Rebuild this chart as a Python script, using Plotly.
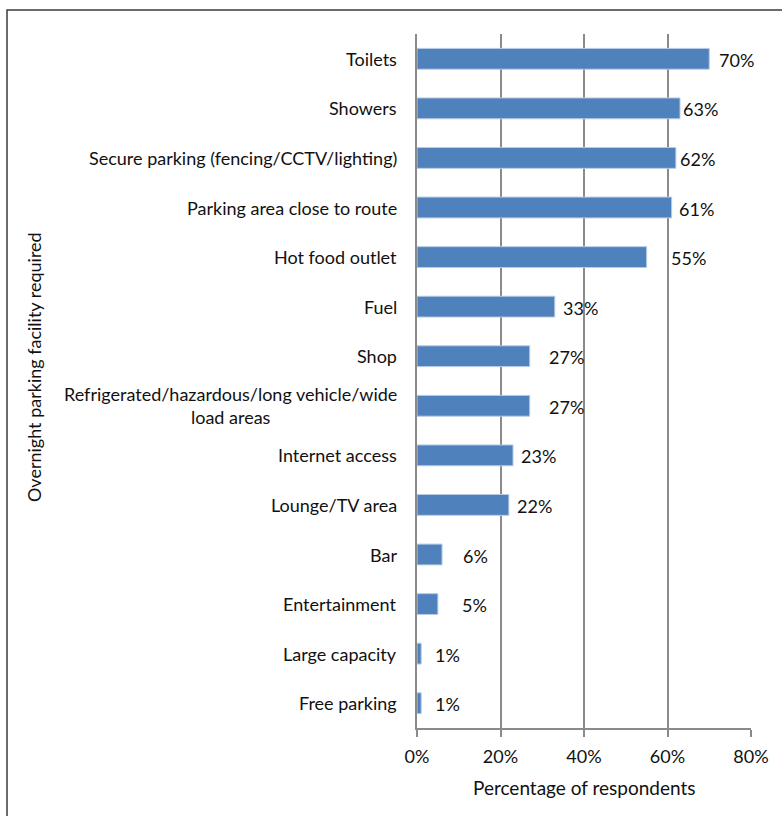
import plotly.graph_objects as go

# Facilities respondents want at overnight lorry parking sites
facilities = [
    "Toilets",
    "Showers",
    "Secure parking (fencing/CCTV/lighting)",
    "Parking area close to route",
    "Hot food outlet",
    "Fuel",
    "Shop",
    "Refrigerated/hazardous/long vehicle/wide<br>load areas",
    "Internet access",
    "Lounge/TV area",
    "Bar",
    "Entertainment",
    "Large capacity",
    "Free parking",
]
share_pct = [70, 63, 62, 61, 55, 33, 27, 27, 23, 22, 6, 5, 1, 1]
x_ticks = [0, 20, 40, 60, 80]

# horizontal nudge (px) of each value label away from the bar end
label_gap_px = [8, 1, 2, 5, 22, 6, 17, 17, 6, 6, 19, 22, 12, 12]

FONT = "Lato, 'Liberation Sans', Arial, sans-serif"
TXT = "#111111"
BAR = "#4F81BD"
GRID = "#8a8a8a"
FS = 18

fig = go.Figure(
    go.Bar(
        y=facilities,
        x=share_pct,
        orientation="h",
        width=0.42,
        marker=dict(color=BAR, line=dict(color="#b8cce4", width=1)),
        hoverinfo="skip",
    )
)

annotations = []
# category labels, right-aligned against the axis with wrapped lines centred
for name in facilities:
    annotations.append(dict(
        x=0, xref="paper", y=name, yref="y",
        text=name, showarrow=False, xanchor="right", yanchor="middle",
        align="center", xshift=-18,
        font=dict(family=FONT, size=FS, color=TXT),
    ))
# value labels
for name, v, gap in zip(facilities, share_pct, label_gap_px):
    annotations.append(dict(
        x=v, xref="x", y=name, yref="y",
        text=f"{v}%", showarrow=False, xanchor="left", yanchor="middle",
        xshift=gap, yshift=-1,
        font=dict(family=FONT, size=FS, color=TXT),
    ))
# y-axis title
annotations.append(dict(
    x=-1.147, xref="paper", y=0.52, yref="paper",
    text="Overnight parking facility required", textangle=-90,
    showarrow=False, xanchor="center", yanchor="middle",
    font=dict(family=FONT, size=FS, color=TXT),
))
# x-axis title
annotations.append(dict(
    x=0.5, xref="paper", y=0, yref="paper", yshift=-59,
    text="Percentage of respondents", showarrow=False,
    xanchor="center", yanchor="middle",
    font=dict(family=FONT, size=FS + 1, color=TXT),
))

fig.update_layout(
    width=782,
    height=816,
    margin=dict(l=417, r=31, t=34, b=88),
    paper_bgcolor="white",
    plot_bgcolor="white",
    showlegend=False,
    annotations=annotations,
    shapes=[dict(
        type="rect", xref="paper", yref="paper",
        x0=-1.2275, x1=1.12, y0=-0.16, y1=1.0346,
        line=dict(color="#3c3c3c", width=1.5), fillcolor="rgba(0,0,0,0)",
        layer="above",
    )],
)

fig.update_xaxes(
    range=[0, 80],
    tickvals=x_ticks,
    ticktext=[f"{t}%" for t in x_ticks],
    showgrid=True, gridcolor=GRID, gridwidth=1.5,
    showline=True, linecolor=GRID, linewidth=2,
    ticks="outside", ticklen=7, tickcolor=GRID, tickwidth=1.5,
    ticklabelstandoff=4,
    tickfont=dict(family=FONT, size=FS, color=TXT),
    zeroline=False,
    fixedrange=True,
)
fig.update_yaxes(
    autorange="reversed",
    showticklabels=False,
    showgrid=False,
    showline=True, linecolor=GRID, linewidth=2,
    ticks="",
    zeroline=False,
    fixedrange=True,
)

fig.write_html("out.html")
